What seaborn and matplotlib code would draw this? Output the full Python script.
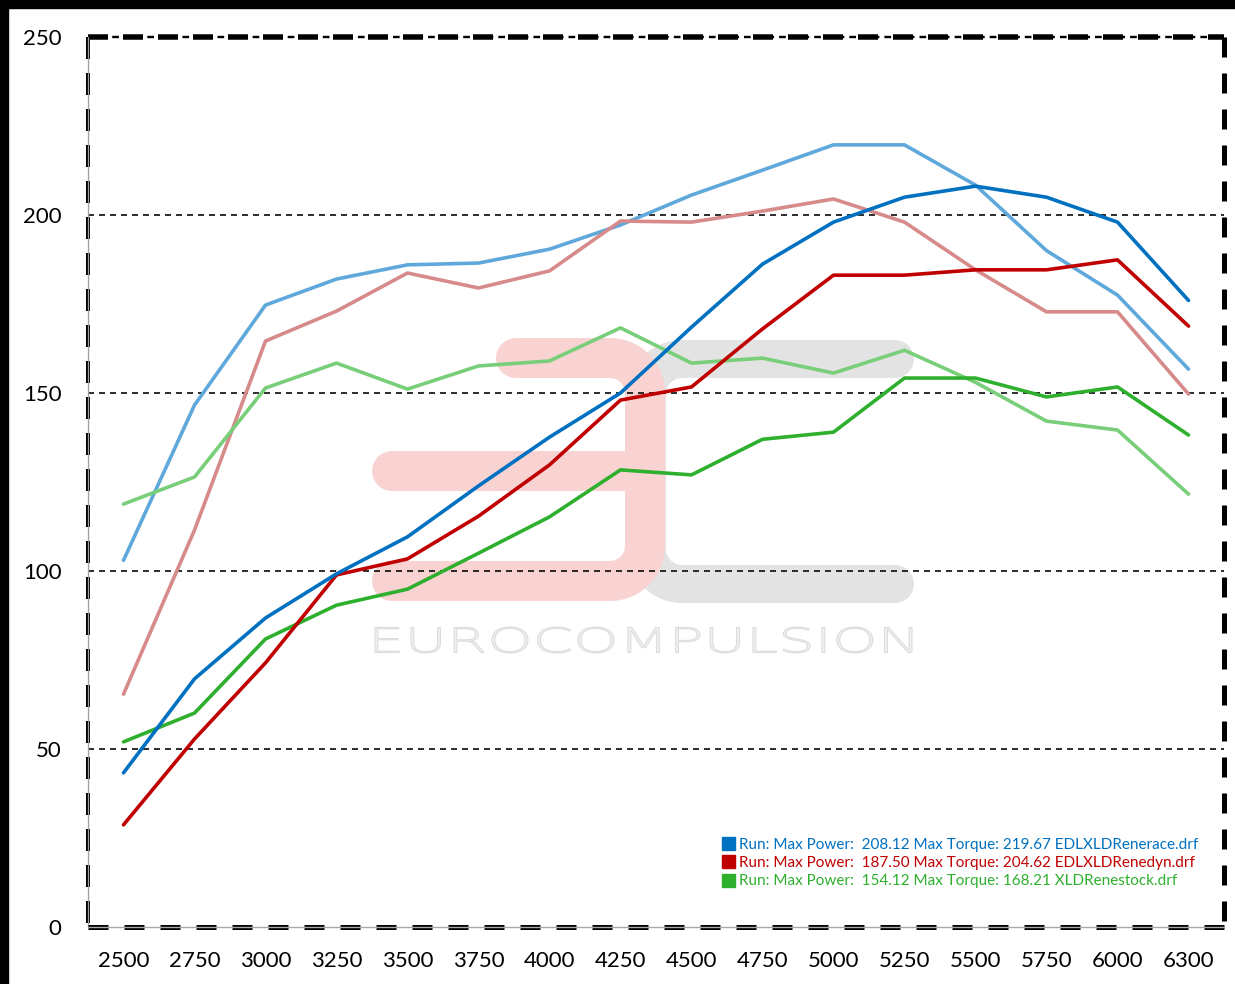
import numpy as np
import pandas as pd
import matplotlib
matplotlib.use("Agg")
import matplotlib.pyplot as plt
import seaborn as sns
from matplotlib.transforms import Affine2D
from matplotlib.textpath import TextPath
from matplotlib.font_manager import FontProperties
from matplotlib.patches import PathPatch, Rectangle
from matplotlib.lines import Line2D

# ---------------- data ----------------
rpm = ["2500", "2750", "3000", "3250", "3500", "3750", "4000", "4250",
       "4500", "4750", "5000", "5250", "5500", "5750", "6000", "6300"]

race_power = [43.3, 69.7, 86.8, 99.2, 109.6, 123.9, 137.6, 150.0,
              168.5, 186.2, 198.0, 205.0, 208.1, 205.0, 198.0, 176.0]
race_torque = [103.0, 146.6, 174.7, 182.0, 186.0, 186.5, 190.4, 197.2,
               205.6, 212.6, 219.7, 219.7, 208.4, 190.0, 177.5, 156.7]
dyn_power = [28.7, 52.8, 74.2, 98.9, 103.4, 115.4, 129.8, 148.0,
             151.7, 168.0, 183.1, 183.1, 184.6, 184.6, 187.4, 168.8]
dyn_torque = [65.4, 111.5, 164.6, 173.0, 183.7, 179.5, 184.3, 198.3,
              198.0, 201.1, 204.5, 198.0, 184.6, 172.8, 172.8, 149.7]
stock_power = [52.0, 60.1, 80.9, 90.4, 94.9, 105.0, 115.2, 128.4,
               127.0, 137.0, 139.0, 154.2, 154.2, 148.9, 151.7, 138.2]
stock_torque = [118.8, 126.4, 151.4, 158.4, 151.1, 157.6, 159.0, 168.3,
                158.4, 159.8, 155.6, 162.0, 153.0, 142.1, 139.6, 121.6]

legend_labels = [
    "Run: Max Power:  208.12 Max Torque: 219.67 EDLXLDRenerace.drf",
    "Run: Max Power:  187.50 Max Torque: 204.62 EDLXLDRenedyn.drf",
    "Run: Max Power:  154.12 Max Torque: 168.21 XLDRenestock.drf",
]
yticks = [0, 50, 100, 150, 200, 250]

# ---------------- styles ----------------
C_BLUE, C_BLUE_L = "#0070c0", "#5fa8dc"
C_RED, C_RED_L = "#c00000", "#d68a8a"
C_GREEN, C_GREEN_L = "#2eb02e", "#79ce79"

sns.set_theme(style="white")
plt.rcParams["font.family"] = ["Lato", "DejaVu Sans"]
plt.rcParams["lines.scale_dashes"] = False

W, H = 1235, 984
fig = plt.figure(figsize=(W / 100, H / 100), dpi=100)
fig.patch.set_facecolor("white")
L, R, T, B = 88, 1224, 37, 927
ax = fig.add_axes([L / W, 1 - B / H, (R - L) / W, (B - T) / H])
ax.set_facecolor("white")

px = Affine2D().scale(0.01) + fig.dpi_scale_trans  # pixel coords (origin bottom-left)
P = 0.72  # px -> pt

# ---------------- watermark logo ----------------
def stroke(xs, ys, color, width):
    ax.add_line(Line2D(xs, [H - y for y in ys], transform=px, color=color,
                       lw=width * P, solid_capstyle="round",
                       solid_joinstyle="round", zorder=0.5, clip_on=False))

def corner(cx, cy, r, a0, a1, n=16):
    a = np.linspace(np.radians(a0), np.radians(a1), n)
    return list(cx + r * np.cos(a)), list(cy - r * np.sin(a))

grey = "#e3e3e3"
# grey "c"
cx1, cy1 = corner(682, 394, 35, 90, 180)
cx2, cy2 = corner(682, 549, 35, 180, 270)
stroke([895] + cx1 + cx2 + [895], [359] + cy1 + cy2 + [584], grey, 38)
pink = "#f9d2d2"
# pink "a"
ax1, ay1 = corner(610, 393, 35, 90, 0)
ax2, ay2 = corner(610, 546, 35, 0, -90)
stroke([516] + ax1 + ax2 + [392], [358] + ay1 + ay2 + [581], pink, 40)
stroke([392, 640], [471, 471], pink, 40)

fp = FontProperties(family="DejaVu Sans", weight="light")
tp = TextPath((0, 0), "EUROCOMPULSION", size=100, prop=fp)
bb = tp.get_extents()
tr = (Affine2D().translate(-bb.x0, -bb.y0)
      .scale(537 / bb.width, 26 / bb.height)
      .translate(375, H - 653)) + px
ax.add_patch(PathPatch(tp, transform=tr, facecolor="#efefef",
                       edgecolor="#dadada", lw=0.7, zorder=0.6, clip_on=False))

# ---------------- grid ----------------
for yv in yticks[1:-1]:
    ax.axhline(yv, color="black", lw=1.6 * P, linestyle=(0, (6 * P, 5 * P)), zorder=1)

# ---------------- lines ----------------
series = [
    (race_torque, C_BLUE_L), (dyn_torque, C_RED_L), (stock_torque, C_GREEN_L),
    (stock_power, C_GREEN), (dyn_power, C_RED), (race_power, C_BLUE),
]
for vals, col in series:
    df = pd.DataFrame({"rpm": rpm, "value": vals})
    sns.lineplot(data=df, x="rpm", y="value", color=col, lw=3.6 * P,
                 sort=False, ax=ax, legend=False, zorder=3,
                 solid_capstyle="round")

ax.set_xlim(-0.5, len(rpm) - 0.5)
ax.set_ylim(0, 250)
ax.set_yticks(yticks)
ax.set_xlabel("")
ax.set_ylabel("")
ax.tick_params(axis="both", length=0, labelsize=16, colors="black")
ax.tick_params(axis="y", pad=19)
ax.tick_params(axis="x", pad=17)

# ---------------- frame ----------------
for s in ax.spines.values():
    s.set_visible(False)

def frame(xs, ys, **kw):
    ax.add_line(Line2D(xs, ys, transform=ax.transAxes, clip_on=False, zorder=5, **kw))

# top: thick dashes + thin dashes in between
frame([0, 1], [1, 1], color="black", lw=2.4 * P,
      linestyle=(10.9 * P, (6.7 * P, 5 * P)))
frame([0, 1], [1, 1], color="black", lw=5.5 * P,
      linestyle=(0, (20 * P, 15 * P)))
# right: thick dashes
frame([1, 1], [1, 0], color="black", lw=5 * P, linestyle=(0, (20 * P, 16 * P)))
# left: grey line + dashes
frame([0, 0], [1, 0], color="black", lw=4 * P, linestyle=(0, (22 * P, 14 * P)))
frame([0, 0], [1, 0], color="#a0a0a0", lw=1.3 * P)
# bottom: double dashes with grey line
frame([0, 1], [0, 0], color="black", lw=5 * P, linestyle=(0, (20 * P, 16 * P)))
frame([0, 1], [0, 0], color="#a8a8a8", lw=1.4 * P)

# ---------------- legend ----------------
handles = [Line2D([], [], marker="s", linestyle="none", markersize=13 * P,
                  color=c) for c in (C_BLUE, C_RED, C_GREEN)]
leg = ax.legend(handles, legend_labels, loc="upper left",
                bbox_to_anchor=(714, H - 830), bbox_transform=px,
                frameon=False, fontsize=11, handlelength=0.8,
                handletextpad=0.35, labelspacing=0.27, borderpad=0,
                labelcolor=[C_BLUE, C_RED, C_GREEN])

# ---------------- black image border (top, left) ----------------
fig.add_artist(Rectangle((0, H - 8), W, 8, transform=px, color="black", zorder=10))
fig.add_artist(Rectangle((0, 0), 8, H, transform=px, color="black", zorder=10))

fig.savefig("out.png", dpi=100, facecolor="white")
